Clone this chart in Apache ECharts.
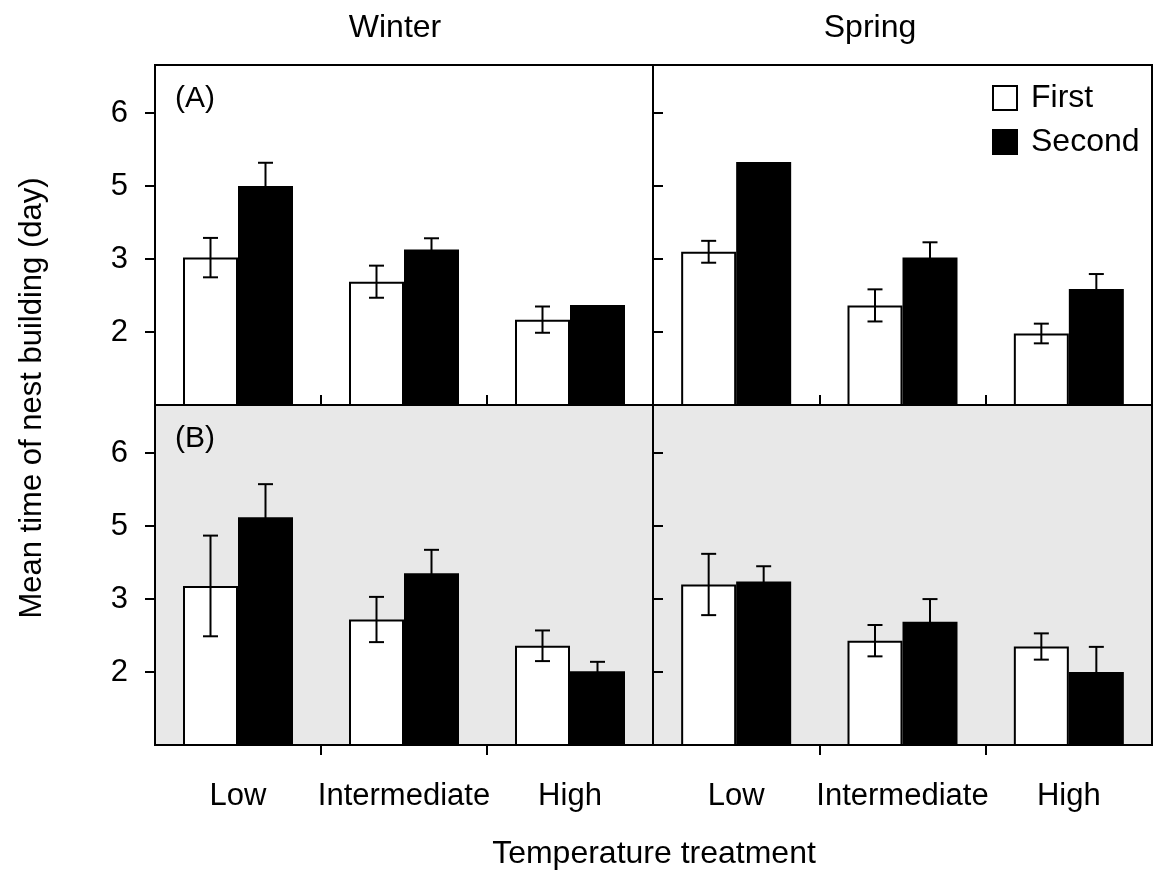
<!DOCTYPE html>
<html>
<head>
<meta charset="utf-8">
<title>Nest building time</title>
<script src="https://cdn.jsdelivr.net/npm/echarts@6/dist/echarts.min.js"></script>
<style>
  html, body { margin: 0; background: #fff; }
  #chart { width: 1157px; height: 870px; }
</style>
</head>
<body>
<div id="chart"></div>
<script>
// categories and tick labels (the printed y labels skip "4")
const categories = ['Low', 'Intermediate', 'High'];
const tickValues = [2, 3, 4, 5];
const tickLabels = ['2', '3', '5', '6'];
const yMin = 1;
const yMax = 5.66;

// (A) Winter
const winterA_first = [3.02, 2.69, 2.17];
const winterA_firstErr = [0.27, 0.22, 0.18];
const winterA_second = [4.0, 3.13, 2.37];
const winterA_secondErr = [0.32, 0.155, 0];
// (A) Spring
const springA_first = [3.10, 2.365, 1.98];
const springA_firstErr = [0.15, 0.22, 0.135];
const springA_second = [4.33, 3.02, 2.59];
const springA_secondErr = [0, 0.21, 0.205];
// (B) Winter
const winterB_first = [3.18, 2.72, 2.36];
const winterB_firstErr = [0.69, 0.31, 0.21];
const winterB_second = [4.12, 3.355, 2.01];
const winterB_secondErr = [0.455, 0.32, 0.13];
// (B) Spring
const springB_first = [3.20, 2.43, 2.35];
const springB_firstErr = [0.42, 0.215, 0.18];
const springB_second = [3.24, 2.69, 2.0];
const springB_secondErr = [0.21, 0.31, 0.345];

const FONT = '"Liberation Sans", Arial, Helvetica, sans-serif';
const BAR_W = 55;

const panels = [
  { left: 155, top: 65, width: 498, height: 340, bg: '#ffffff', right: false, bottom: false,
    first: winterA_first, firstErr: winterA_firstErr, second: winterA_second, secondErr: winterA_secondErr },
  { left: 653, top: 65, width: 499, height: 340, bg: '#ffffff', right: true, bottom: false,
    first: springA_first, firstErr: springA_firstErr, second: springA_second, secondErr: springA_secondErr },
  { left: 155, top: 405, width: 498, height: 340, bg: '#e8e8e8', right: false, bottom: true,
    first: winterB_first, firstErr: winterB_firstErr, second: winterB_second, secondErr: winterB_secondErr },
  { left: 653, top: 405, width: 499, height: 340, bg: '#e8e8e8', right: true, bottom: true,
    first: springB_first, firstErr: springB_firstErr, second: springB_second, secondErr: springB_secondErr },
];

function errRender(offset) {
  return function (params, api) {
    const e = api.value(2);
    if (!e) return null;
    const c = api.value(0);
    const v = api.value(1);
    const top = api.coord([c, v + e]);
    const bot = api.coord([c, v - e]);
    const x = top[0] + offset;
    const style = { stroke: '#000', lineWidth: 2 };
    return {
      type: 'group',
      children: [
        { type: 'line', shape: { x1: x, y1: top[1], x2: x, y2: bot[1] }, style },
        { type: 'line', shape: { x1: x - 7.5, y1: top[1], x2: x + 7.5, y2: top[1] }, style },
        { type: 'line', shape: { x1: x - 7.5, y1: bot[1], x2: x + 7.5, y2: bot[1] }, style },
      ],
    };
  };
}

const grid = [];
const xAxis = [];
const yAxis = [];
const series = [];

panels.forEach((p, i) => {
  grid.push({
    left: p.left, top: p.top, width: p.width, height: p.height,
    show: true, backgroundColor: p.bg, borderColor: '#000', borderWidth: 2,
  });
  xAxis.push({
    type: 'category', gridIndex: i, data: categories, position: 'bottom',
    axisLine: { show: false }, axisTick: { show: false },
    axisLabel: { show: p.bottom, interval: 0, margin: 36, fontSize: 31, color: '#000', fontFamily: FONT },
  });
  yAxis.push({
    type: 'value', gridIndex: i, min: yMin, max: yMax,
    axisLine: { show: true, lineStyle: { color: '#000', width: 2 } },
    splitLine: { show: false },
    axisTick: { show: true, inside: p.right, length: 10, customValues: tickValues,
      lineStyle: { color: '#000', width: 2 } },
    axisLabel: { show: !p.right, customValues: tickValues, margin: 27, fontSize: 31,
      color: '#000', fontFamily: FONT,
      formatter: (v) => tickLabels[tickValues.indexOf(v)] },
  });

  series.push({
    name: 'First', type: 'bar', xAxisIndex: i, yAxisIndex: i,
    barWidth: BAR_W, barGap: '0%', data: p.first,
    itemStyle: { color: '#fff', borderColor: '#000', borderWidth: 2 },
  });
  series.push({
    name: 'Second', type: 'bar', xAxisIndex: i, yAxisIndex: i,
    barWidth: BAR_W, barGap: '0%', data: p.second,
    itemStyle: { color: '#000', borderColor: '#000', borderWidth: 2 },
  });
  series.push({
    name: 'errFirst', type: 'custom', xAxisIndex: i, yAxisIndex: i, z: 5,
    renderItem: errRender(-BAR_W / 2), encode: { x: 0, y: 1 },
    data: categories.map((c, j) => [j, p.first[j], p.firstErr[j]]),
  });
  series.push({
    name: 'errSecond', type: 'custom', xAxisIndex: i, yAxisIndex: i, z: 5,
    renderItem: errRender(BAR_W / 2), encode: { x: 0, y: 1 },
    data: categories.map((c, j) => [j, p.second[j], p.secondErr[j]]),
  });
});

// extra value axes only for the tick marks between categories
panels.forEach((p, i) => {
  xAxis.push({
    type: 'value', gridIndex: i, min: 0, max: 3, position: 'bottom',
    axisLine: { show: false }, splitLine: { show: false }, axisLabel: { show: false },
    axisTick: { show: true, inside: !p.bottom, length: 10, customValues: [1, 2],
      lineStyle: { color: '#000', width: 2 } },
  });
});

const txt = (text, x, y, extra) => ({
  type: 'text', x, y, ...extra,
  style: { text, fill: '#000', font: '32px ' + FONT, textAlign: 'center', textVerticalAlign: 'middle',
    ...(extra && extra.style) },
});

const chart = echarts.init(document.getElementById('chart'), null, { renderer: 'canvas' });
chart.setOption({
  animation: false,
  backgroundColor: '#fff',
  grid, xAxis, yAxis, series,
  legend: {
    data: ['First', 'Second'], orient: 'vertical', left: 987, top: 77,
    itemWidth: 24, itemHeight: 24, itemGap: 12, icon: 'rect',
    textStyle: { fontSize: 32, color: '#000', fontFamily: FONT, padding: [0, 0, 0, 9] },
  },
  graphic: [
    txt('Winter', 395, 28),
    txt('Spring', 870, 28),
    txt('Temperature treatment', 654, 854),
    { type: 'text', x: 32, y: 398, rotation: Math.PI / 2,
      style: { text: 'Mean time of nest building (day)', fill: '#000', font: '31px ' + FONT,
        textAlign: 'center', textVerticalAlign: 'middle' } },
    { type: 'text', left: 175, top: 84, z: 10,
      style: { text: '(A)', fill: '#000', font: '30px ' + FONT } },
    { type: 'text', left: 175, top: 424, z: 10,
      style: { text: '(B)', fill: '#000', font: '30px ' + FONT } },
  ],
});
</script>
</body>
</html>
